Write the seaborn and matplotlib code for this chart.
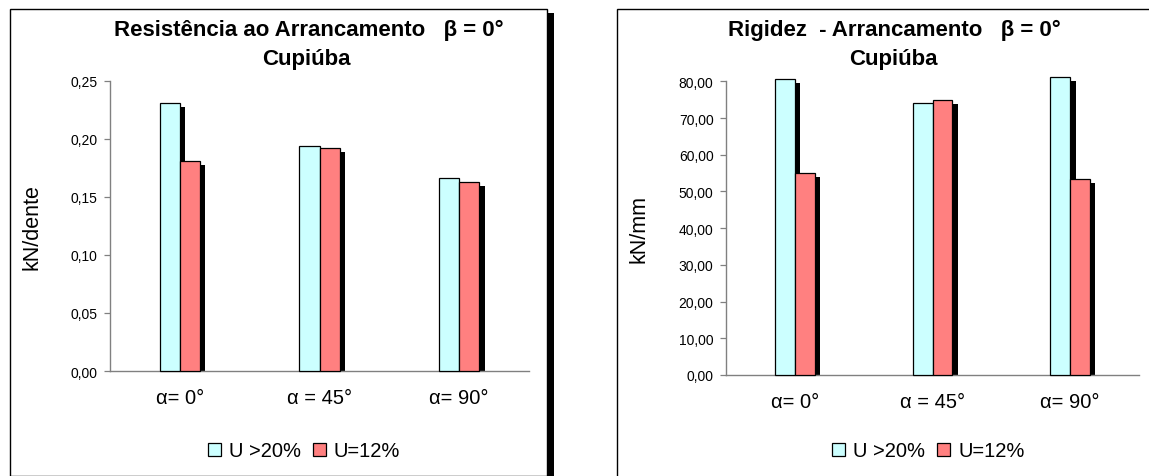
import pandas as pd
import matplotlib.pyplot as plt
import numpy as np
import seaborn as sb
from matplotlib.patches import Rectangle
from matplotlib.ticker import FuncFormatter

# Dados
categorias = ["α= 0°", "α = 45°", "α= 90°"]
umidades = ["U >20%", "U=12%"]
resist_u20 = [0.231, 0.194, 0.166]
resist_u12 = [0.181, 0.192, 0.163]
rigidez_u20 = [80.7, 74.2, 81.2]
rigidez_u12 = [54.9, 74.9, 53.3]

cores = ["#CCFFFF", "#FF8080"]

W, H = 1149, 477

sb.set_theme(style="white")
plt.rcParams["font.family"] = ["Liberation Sans", "DejaVu Sans"]
for k in ["text.color", "axes.labelcolor", "xtick.color", "ytick.color"]:
    plt.rcParams[k] = "black"

fig = plt.figure(figsize=(W / 100, H / 100), dpi=100)
fig.patch.set_facecolor("white")


def px(x0, y0, x1, y1):
    # caixa em pixels (origem no topo) -> coordenadas da figura
    return [x0 / W, 1 - y1 / H, (x1 - x0) / W, (y1 - y0) / H]


def monta_df(v20, v12):
    return pd.DataFrame({
        "alpha": categorias * 2,
        "umidade": [umidades[0]] * 3 + [umidades[1]] * 3,
        "valor": list(v20) + list(v12),
    })


def grafico(ax, df, ymax, passo, ylabel, label_x, sombra_px=(5.5, 4)):
    sb.barplot(data=df, x="alpha", y="valor", hue="umidade", palette=cores,
               width=0.287, gap=0, edgecolor="black", linewidth=0.9,
               saturation=1, ax=ax, zorder=3)
    ax.set_ylim(0, ymax)
    ax.set_xlim(-0.5, 2.5)
    ax.set_yticks(np.arange(0, ymax + passo / 2, passo))
    ax.yaxis.set_major_formatter(FuncFormatter(lambda v, p: f"{v:.2f}".replace(".", ",")))
    ax.tick_params(axis="y", labelsize=10, length=4, width=0.9, color="#808080",
                   pad=5, left=True)
    ax.tick_params(axis="x", labelsize=14.5, length=0, pad=12)
    ax.set_xlabel("")
    ax.set_ylabel(ylabel, fontsize=15.5)
    ax.yaxis.set_label_coords(label_x, 0.5)
    for s in ["top", "right"]:
        ax.spines[s].set_visible(False)
    for s in ["left", "bottom"]:
        ax.spines[s].set_color("#808080")
        ax.spines[s].set_linewidth(1.0)
    ax.set_facecolor("none")

    # sombra preta deslocada atrás de cada barra
    fig.canvas.draw()
    inv = ax.transData.inverted()
    p0 = inv.transform((0, 0))
    p1 = inv.transform(sombra_px)
    dx, dy = p1[0] - p0[0], p1[1] - p0[1]
    barras = [p for p in ax.patches if p.get_height() > 0]
    for p in barras:
        r = Rectangle((p.get_x() + dx, 0), p.get_width(), p.get_height() - dy,
                      facecolor="black", edgecolor="none", zorder=2, clip_on=False)
        ax.add_patch(r)
        p.set_clip_on(False)

    handles, labels = ax.get_legend_handles_labels()
    ax.get_legend().remove()
    return handles, labels


# painel esquerdo
fig.add_artist(Rectangle((10 / W, 0), 537 / W, 1 - 10 / H, transform=fig.transFigure,
                         facecolor="white", edgecolor="black", linewidth=1, zorder=0))
fig.add_artist(Rectangle((547 / W, 0), 7 / W, 1 - 14 / H, transform=fig.transFigure,
                         facecolor="black", edgecolor="none", zorder=0))
# painel direito
fig.add_artist(Rectangle((617 / W, -0.05), 0.5, 1.05 - 10 / H, transform=fig.transFigure,
                         facecolor="white", edgecolor="black", linewidth=1, zorder=0))

leg_kw = dict(loc="center", bbox_transform=fig.transFigure, ncol=2, frameon=False,
              fontsize=14.5, handlelength=0.65, handleheight=0.65, handletextpad=0.4,
              columnspacing=0.6)

ax1 = fig.add_axes(px(110, 81.7, 529, 372))
h, l = grafico(ax1, monta_df(resist_u20, resist_u12), 0.25, 0.05, "kN/dente", -0.16)
ax1.legend(h, l, bbox_to_anchor=(304 / W, 1 - 452 / H), **leg_kw)

ax2 = fig.add_axes(px(726, 82.3, 1139, 376))
h, l = grafico(ax2, monta_df(rigidez_u20, rigidez_u12), 80, 10, "kN/mm", -0.185)
ax2.legend(h, l, bbox_to_anchor=(928 / W, 1 - 452 / H), **leg_kw)

# títulos
tkw = dict(ha="center", va="center", fontsize=16, fontweight="bold")
fig.text(309 / W, 1 - 30 / H, "Resistência ao Arrancamento   β = 0°", **tkw)
fig.text(306 / W, 1 - 60 / H, "Cupiúba", **tkw)
fig.text(894 / W, 1 - 30 / H, "Rigidez  - Arrancamento   β = 0°", **tkw)
fig.text(893 / W, 1 - 60 / H, "Cupiúba", **tkw)

plt.savefig("out.png", dpi=100)
